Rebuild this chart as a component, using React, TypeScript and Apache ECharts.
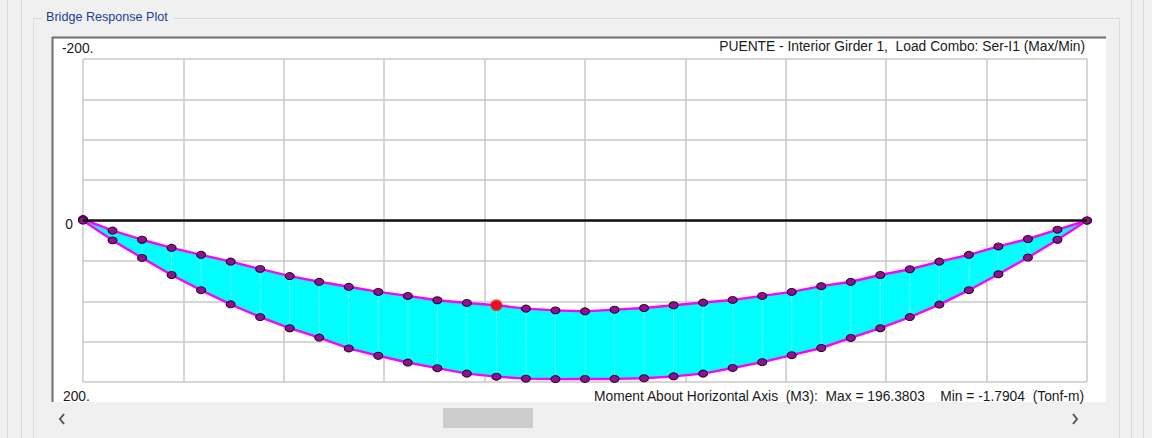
import React, { useEffect, useRef } from "react";
import * as echarts from "echarts";

// Stations along the girder (35 output stations)
const stations = [0, 1, 2, 3, 4, 5, 6, 7, 8, 9, 10, 11, 12, 13, 14, 15, 16, 17, 18, 19, 20, 21, 22, 23, 24, 25, 26, 27, 28, 29, 30, 31, 32, 33, 34];

// Moment envelope (Tonf-m), positive plotted downward
const minMoment = [-1.79, 12.5, 23.8, 33.8, 42.5, 50.9, 60, 68.8, 75.9, 82.1, 88.4, 93.4, 98.8, 102.1, 105, 109.1, 111.3, 112.5, 110.4, 108.4, 105, 101.6, 98.4, 93.4, 88.4, 81.3, 75.9, 67.5, 60.4, 50.9, 42.5, 32.1, 22.9, 11.3, 0];
const maxMoment = [0, 24.6, 46.3, 67.5, 86.3, 103.8, 119.6, 133.4, 145, 158.4, 167.5, 175.9, 182.9, 189.6, 193.4, 195.8, 196.4, 196.2, 196.1, 195.4, 193, 189.6, 182.6, 175.4, 166.8, 157.9, 145.4, 133.4, 119.6, 104.1, 86.3, 66.6, 45.9, 23.8, 0];

// Highlighted station (red point on the min curve)
const highlightStation = 14;

const yTickLabels = ["-200.", "0", "200."];
const panelTitle = "Bridge Response Plot";
const plotTitle = "PUENTE - Interior Girder 1,  Load Combo: Ser-I1 (Max/Min)";
const footerText = "Moment About Horizontal Axis  (M3):  Max = 196.3803    Min = -1.7904  (Tonf-m)";

const FONT = "Liberation Sans, Arial, sans-serif";

export default function App() {
  const ref = useRef<HTMLDivElement>(null);

  useEffect(() => {
    document.body.style.margin = "0";
    const chart = echarts.init(ref.current!, null, { renderer: "svg" });

    const minData = stations.map((s, i) => [s, minMoment[i]]);
    const maxData = stations.map((s, i) => [s, maxMoment[i]]);
    const bandData = stations.slice(0, -1).map((s, i) => [
      s, minMoment[i], maxMoment[i], stations[i + 1], minMoment[i + 1], maxMoment[i + 1],
    ]);

    const markerStyle = {
      color: "#8e128e",
      borderColor: "#2a002a",
      borderWidth: 1,
    };

    const txt = (text: string, x: number, y: number, align: string, size = 13.8) => ({
      type: "text",
      x,
      y,
      silent: true,
      style: {
        text,
        fill: "#1a1a1a",
        font: `${size}px ${FONT}`,
        textAlign: align,
        textVerticalAlign: "middle",
      },
    });

    const vline = (x: number, y1: number, y2: number, stroke: string, w = 1) => ({
      type: "line",
      silent: true,
      shape: { x1: x, y1, x2: x, y2 },
      style: { stroke, lineWidth: w },
    });
    const hline = (y: number, x1: number, x2: number, stroke: string, w = 1) => ({
      type: "line",
      silent: true,
      shape: { x1, y1: y, x2, y2: y },
      style: { stroke, lineWidth: w },
    });

    chart.setOption({
      animation: false,
      backgroundColor: "#f0f0f0",
      graphic: {
        elements: [
          // window edges
          vline(7.5, 0, 438, "#dadada"),
          vline(21.5, 0, 438, "#dadada"),
          vline(33.5, 18, 438, "#dcdcdc"),
          vline(1119.5, 18, 438, "#dcdcdc"),
          vline(1131.5, 0, 438, "#dadada"),
          vline(1143.5, 0, 438, "#dadada"),
          // group box
          hline(18.5, 174, 1119, "#d8d8d8"),
          hline(18.5, 33, 42, "#d8d8d8"),
          {
            type: "text",
            x: 46,
            y: 17,
            silent: true,
            style: {
              text: panelTitle,
              fill: "#1f3c98",
              font: `12.6px ${FONT}`,
              textAlign: "left",
              textVerticalAlign: "middle",
            },
          },
          // white plot panel
          {
            type: "rect",
            silent: true,
            z: -10,
            shape: { x: 52, y: 37, width: 1054, height: 365 },
            style: { fill: "#ffffff" },
          },
          hline(37.5, 52, 1106, "#6e6e6e", 2),
          vline(52.5, 37, 402, "#6e6e6e", 2),
          // labels
          txt(yTickLabels[0], 62, 48, "left"),
          txt(yTickLabels[1], 73, 224, "right"),
          txt(yTickLabels[2], 63, 396, "left"),
          txt(plotTitle, 1085, 46, "right"),
          txt(footerText, 1084, 396, "right"),
          // scrollbar
          {
            type: "rect",
            silent: true,
            shape: { x: 443, y: 408, width: 90, height: 20 },
            style: { fill: "#cdcdcd" },
          },
          {
            type: "polyline",
            silent: true,
            shape: { points: [[64, 414], [60, 419], [64, 424]] },
            style: { stroke: "#555", lineWidth: 2, fill: null },
          },
          {
            type: "polyline",
            silent: true,
            shape: { points: [[1073, 414], [1077, 419], [1073, 424]] },
            style: { stroke: "#555", lineWidth: 2, fill: null },
          },
        ],
      },
      grid: { left: 83, top: 59, width: 1004, height: 323, containLabel: false },
      xAxis: {
        type: "value",
        min: 0,
        max: 34,
        interval: 3.4,
        axisLine: { show: false },
        axisTick: { show: false },
        axisLabel: { show: false },
        splitLine: { show: true, lineStyle: { color: "#c8c8c8", width: 1.5 } },
      },
      yAxis: {
        type: "value",
        min: -200,
        max: 200,
        interval: 50,
        inverse: true,
        axisLine: { show: false },
        axisTick: { show: false },
        axisLabel: { show: false },
        splitLine: { show: true, lineStyle: { color: "#c8c8c8", width: 1.5 } },
      },
      series: [
        {
          name: "Band",
          type: "custom",
          silent: true,
          z: 2,
          data: bandData,
          renderItem: (params: any, api: any) => {
            const a = api.coord([api.value(0), api.value(1)]);
            const b = api.coord([api.value(0), api.value(2)]);
            const c = api.coord([api.value(3), api.value(5)]);
            const d = api.coord([api.value(3), api.value(4)]);
            const children: any[] = [
              {
                type: "polygon",
                shape: { points: [a, b, c, d] },
                style: { fill: "#00ffff", stroke: "#00ffff", lineWidth: 0.6 },
              },
            ];
            if (b[1] - a[1] > 10) {
              children.push({
                type: "line",
                shape: { x1: a[0], y1: a[1] + 5, x2: b[0], y2: b[1] - 5 },
                style: { stroke: "rgba(255,255,255,0.3)", lineWidth: 1 },
              });
            }
            return { type: "group", children };
          },
        },
        {
          name: "Zero",
          type: "line",
          data: [],
          z: 2,
          markLine: {
            silent: true,
            symbol: "none",
            label: { show: false },
            lineStyle: { color: "#111", width: 2.5, type: "solid" },
            data: [{ yAxis: 0 }],
          },
        },
        {
          name: "Min",
          type: "line",
          data: minData,
          symbol: "circle",
          symbolSize: [9, 7],
          itemStyle: markerStyle,
          lineStyle: { color: "#ff00ff", width: 2.4 },
          z: 3,
        },
        {
          name: "Max",
          type: "line",
          data: maxData,
          symbol: "circle",
          symbolSize: [9, 7],
          itemStyle: markerStyle,
          lineStyle: { color: "#ff00ff", width: 2.4 },
          z: 3,
        },
        {
          name: "Selected",
          type: "scatter",
          data: [[stations[highlightStation], minMoment[highlightStation]]],
          symbol: "circle",
          symbolSize: 12,
          itemStyle: { color: "#ff1010" },
          z: 6,
        },
      ],
    });

    return () => chart.dispose();
  }, []);

  return <div ref={ref} style={{ width: 1152, height: 438 }} />;
}
